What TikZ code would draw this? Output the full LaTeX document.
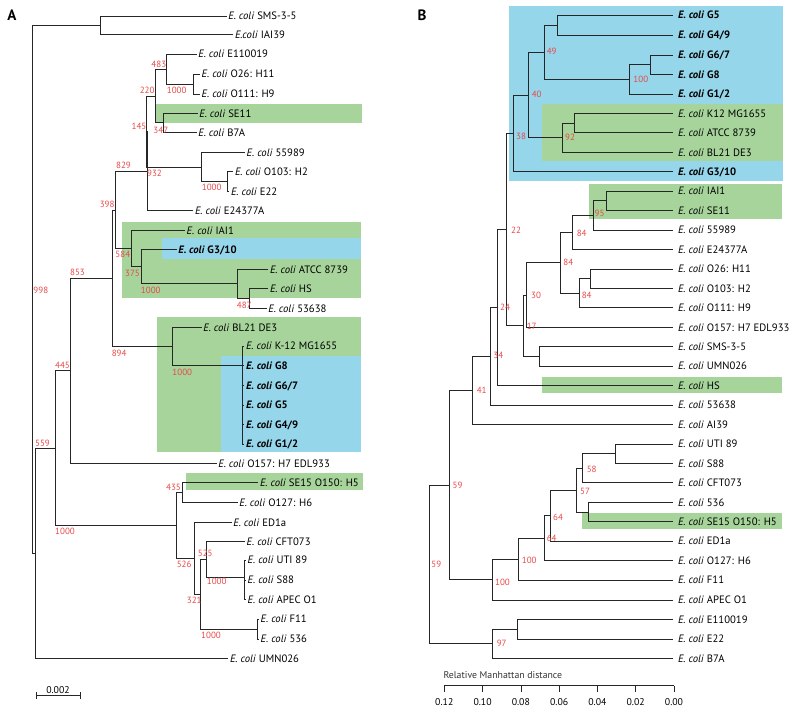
\documentclass[tikz,border=0pt]{standalone}
\usepackage{fontspec}
\setmainfont{PT Sans}
\usetikzlibrary{positioning}
\definecolor{hlgreen}{RGB}{166,212,155}
\definecolor{hlblue}{RGB}{150,214,234}
\definecolor{bsred}{RGB}{232,72,72}
\newcommand{\ecoli}{\textit{E. coli}}
\tikzset{
  branch/.style={line width=0.7pt, black!85},
  leafL/.style={anchor=west, inner xsep=1.5pt, inner ysep=0pt, font=\fontsize{10.7}{12}\selectfont, text height=7.4pt, text depth=0pt},
  leafR/.style={leafL, inner xsep=4.5pt},
  bs/.style={font=\fontsize{9}{10}\selectfont, text=bsred, inner sep=0pt},
  greenbox/.style={fill=hlgreen, draw=none},
  bluebox/.style={fill=hlblue, draw=none},
  axlbl/.style={font=\fontsize{9.8}{11}\selectfont, inner sep=0pt},
}

\begin{document}
\begin{tikzpicture}[x=1pt, y=-1pt]
\useasboundingbox (0,0) rectangle (800,709);

% highlight boxes
\fill[greenbox] (155.7,104.3) rectangle (361.7,123.3);
\fill[greenbox] (122.3,221.7) rectangle (361,298.3);
\fill[bluebox]  (161.7,237.7) rectangle (361,259);
\fill[greenbox] (156.7,317.3) rectangle (361,451.7);
\fill[bluebox]  (221,355.7) rectangle (361,451.7);
\fill[greenbox] (185.7,473.3) rectangle (362.7,490);
\fill[bluebox]  (509.3,6) rectangle (782.7,181);
\fill[greenbox] (542.3,104.3) rectangle (782.7,161);
\fill[greenbox] (589,184.3) rectangle (782.3,219.3);
\fill[greenbox] (541.7,376.7) rectangle (782.3,393.3);
\fill[greenbox] (581.7,512.7) rectangle (782.3,529.3);

\node[font=\bfseries\fontsize{15}{16}\selectfont] (pA) at (12,15) {A};
\node[font=\bfseries\fontsize{15}{16}\selectfont] (pB) at (422,15) {B};

% tree A leaves
\node[leafL] (a-sms) at (226.7,16) {\ecoli\ SMS-3-5};
\node[leafL] (a-iai39) at (233.3,34.7) {\textit{E.coli} IAI39};
\node[leafL] (a-e110019) at (196.7,54.3) {\ecoli\ E110019};
\node[leafL] (a-o26) at (200,74) {\ecoli\ O26: H11};
\node[leafL] (a-o111) at (200,94) {\ecoli\ O111: H9};
\node[leafL] (a-se11) at (197.7,113.3) {\ecoli\ SE11};
\node[leafL] (a-b7a) at (196.7,132.3) {\ecoli\ B7A};
\node[leafL] (a-55989) at (245,152.3) {\ecoli\ 55989};
\node[leafL] (a-o103) at (233.3,171.7) {\ecoli\ O103: H2};
\node[leafL] (a-e22) at (229.3,191.7) {\ecoli\ E22};
\node[leafL] (a-e24377a) at (193.3,210.7) {\ecoli\ E24377A};
\node[leafL] (a-iai1) at (185,230.7) {\ecoli\ IAI1};
\node[leafL] (a-g310) at (176.7,249.3) {\textbf{\ecoli\ G3/10}};
\node[leafL] (a-atcc) at (268.3,269.3) {\ecoli\ ATCC 8739};
\node[leafL] (a-hs) at (268.3,288.3) {\ecoli\ HS};
\node[leafL] (a-53638) at (266.7,308.3) {\ecoli\ 53638};
\node[leafL] (a-bl21) at (201.7,327.3) {\ecoli\ BL21 DE3};
\node[leafL] (a-k12) at (244.3,346) {\ecoli\ K-12 MG1655};
\node[leafL] (a-g8) at (244.3,365.7) {\textbf{\ecoli\ G8}};
\node[leafL] (a-g67) at (244.3,385.7) {\textbf{\ecoli\ G6/7}};
\node[leafL] (a-g5) at (244.3,405) {\textbf{\ecoli\ G5}};
\node[leafL] (a-g49) at (244.3,424.3) {\textbf{\ecoli\ G4/9}};
\node[leafL] (a-g12) at (244.3,444) {\textbf{\ecoli\ G1/2}};
\node[leafL] (a-o157) at (216.7,463.3) {\ecoli\ O157: H7 EDL933};
\node[leafL] (a-se15) at (258.3,482.7) {\ecoli\ SE15 O150: H5};
\node[leafL] (a-o127) at (237.7,502.3) {\ecoli\ O127: H6};
\node[leafL] (a-ed1a) at (231.7,522.3) {\ecoli\ ED1a};
\node[leafL] (a-cft073) at (245,541.7) {\ecoli\ CFT073};
\node[leafL] (a-uti89) at (246,560) {\ecoli\ UTI 89};
\node[leafL] (a-s88) at (246,580) {\ecoli\ S88};
\node[leafL] (a-apec) at (246,599.3) {\ecoli\ APEC O1};
\node[leafL] (a-f11) at (259,619) {\ecoli\ F11};
\node[leafL] (a-536) at (259,639) {\ecoli\ 536};
\node[leafL] (a-umn026) at (228.3,658.7) {\ecoli\ UMN026};

% tree A inner nodes
\coordinate (aroot) at (32,289.4);
\coordinate (aSMS) at (100,25.3);
\coordinate (a559) at (35,553.4);
\coordinate (a445) at (55,448.1);
\coordinate (a853) at (70,370.8);
\coordinate (a894) at (112.3,278.2);
\coordinate (a829) at (115.7,209.9);
\coordinate (a932) at (147,171.1);
\coordinate (a145) at (146,131.5);
\coordinate (a220) at (155.7,96);
\coordinate (a483) at (166.7,69.2);
\coordinate (aO26) at (193.3,84);
\coordinate (a347) at (163.3,122.8);
\coordinate (a55989) at (201.7,167);
\coordinate (aO103) at (227.7,181.7);
\coordinate (a584) at (131,248.7);
\coordinate (a375) at (141.7,266.6);
\coordinate (aATCC) at (237.3,283.8);
\coordinate (aHS) at (249.3,298.3);
\coordinate (aBL) at (172.3,346.5);
\coordinate (aG) at (242.7,365.7);
\coordinate (a526) at (176.7,525.4);
\coordinate (a435) at (182.3,492.5);
\coordinate (a321) at (194.3,558.3);
\coordinate (aN) at (200,594.2);
\coordinate (a525) at (206.7,559.3);
\coordinate (aUTI) at (244.3,577);
\coordinate (aF11) at (257.7,629);

\foreach \p/\c in {aroot/aSMS, aroot/a559, aSMS/a-sms.west, aSMS/a-iai39.west,
    a559/a445, a559/a-umn026.west, a445/a853, a445/a526,
    a853/a894, a853/a-o157.west, a894/a829, a894/aBL,
    a829/a932, a829/a584, a932/a145, a932/a-e24377a.west,
    a145/a220, a145/a55989, a220/a483, a220/a347,
    a483/a-e110019.west, a483/aO26, aO26/a-o26.west, aO26/a-o111.west,
    a347/a-se11.west, a347/a-b7a.west, a55989/a-55989.west, a55989/aO103,
    aO103/a-o103.west, aO103/a-e22.west, a584/a-iai1.west, a584/a375,
    a375/a-g310.west, a375/aATCC, aATCC/a-atcc.west, aATCC/aHS,
    aHS/a-hs.west, aHS/a-53638.west, aBL/a-bl21.west, aBL/aG,
    aG/a-k12.west, aG/a-g8.west, aG/a-g67.west, aG/a-g5.west, aG/a-g49.west, aG/a-g12.west,
    a526/a435, a526/a321, a435/a-se15.west, a435/a-o127.west,
    a321/a-ed1a.west, a321/aN, aN/a525, aN/aF11,
    a525/a-cft073.west, a525/aUTI, aUTI/a-uti89.west, aUTI/a-s88.west, aUTI/a-apec.west,
    aF11/a-f11.west, aF11/a-536.west}
  \draw[branch] (\p) |- (\c);

% tree A support values
\node[bs] (s483) at (158.8,64) {483};
\node[bs] (s1000a) at (176.7,90.7) {1000};
\node[bs] (s220) at (147.2,90.7) {220};
\node[bs] (s347) at (160.8,130) {347};
\node[bs] (s145) at (139,126.7) {145};
\node[bs] (s932) at (154.5,173.3) {932};
\node[bs] (s1000b) at (211.7,187.7) {1000};
\node[bs] (s829) at (123.5,165.7) {829};
\node[bs] (s398) at (107.2,204.3) {398};
\node[bs] (s584) at (122.8,254.3) {584};
\node[bs] (s375) at (132.5,273.3) {375};
\node[bs] (s1000c) at (150.8,290) {1000};
\node[bs] (s487) at (244.2,305) {487};
\node[bs] (s894) at (119.2,353.3) {894};
\node[bs] (s1000d) at (182.3,372.3) {1000};
\node[bs] (s853) at (77.5,272.3) {853};
\node[bs] (s445) at (62.5,365) {445};
\node[bs] (s998) at (40.8,290) {998};
\node[bs] (s559) at (42.5,443.3) {559};
\node[bs] (s1000e) at (65,531) {1000};
\node[bs] (s435) at (173.5,487.3) {435};
\node[bs] (s526) at (184.2,564) {526};
\node[bs] (s525) at (205.2,553.3) {525};
\node[bs] (s1000f) at (216.7,581.7) {1000};
\node[bs] (s321) at (194.2,600) {321};
\node[bs] (s1000g) at (211,635.7) {1000};

% scale bar
\coordinate (sb0) at (36,695.7);
\coordinate (sb1) at (80,695.7);
\draw[branch] (sb0) -- (sb1);
\draw[branch] (sb0) ++(0,-3.3) -- ++(0,6.6);
\draw[branch] (sb1) ++(0,-3.3) -- ++(0,6.6);
\node[axlbl] (sblbl) at (58,689.7) {0.002};

% tree B leaves
\node[leafR] (b-g5) at (673.3,15.3) {\textbf{\ecoli\ G5}};
\node[leafR] (b-g49) at (673.3,35) {\textbf{\ecoli\ G4/9}};
\node[leafR] (b-g67) at (673.3,55) {\textbf{\ecoli\ G6/7}};
\node[leafR] (b-g8) at (673.3,74.3) {\textbf{\ecoli\ G8}};
\node[leafR] (b-g12) at (673.3,94) {\textbf{\ecoli\ G1/2}};
\node[leafR] (b-k12) at (673.3,113.3) {\ecoli\ K12 MG1655};
\node[leafR] (b-atcc) at (673.3,132.7) {\ecoli\ ATCC 8739};
\node[leafR] (b-bl21) at (673.3,152.3) {\ecoli\ BL21 DE3};
\node[leafR] (b-g310) at (673.3,171.7) {\textbf{\ecoli\ G3/10}};
\node[leafR] (b-iai1) at (673.3,191) {\ecoli\ IAI1};
\node[leafR] (b-se11) at (673.3,210.7) {\ecoli\ SE11};
\node[leafR] (b-55989) at (673.3,230) {\ecoli\ 55989};
\node[leafR] (b-e24377a) at (673.3,249.3) {\ecoli\ E24377A};
\node[leafR] (b-o26) at (673.3,269) {\ecoli\ O26: H11};
\node[leafR] (b-o103) at (673.3,288.3) {\ecoli\ O103: H2};
\node[leafR] (b-o111) at (673.3,307.7) {\ecoli\ O111: H9};
\node[leafR] (b-o157) at (673.3,327.3) {\ecoli\ O157: H7 EDL933};
\node[leafR] (b-sms) at (673.3,346.7) {\ecoli\ SMS-3-5};
\node[leafR] (b-umn026) at (673.3,366) {\ecoli\ UMN026};
\node[leafR] (b-hs) at (673.3,385.7) {\ecoli\ HS};
\node[leafR] (b-53638) at (673.3,405) {\ecoli\ 53638};
\node[leafR] (b-ai39) at (673.3,424.3) {\ecoli\ AI39};
\node[leafR] (b-uti89) at (673.3,444) {\ecoli\ UTI 89};
\node[leafR] (b-s88) at (673.3,463.3) {\ecoli\ S88};
\node[leafR] (b-cft073) at (673.3,482.7) {\ecoli\ CFT073};
\node[leafR] (b-536) at (673.3,502.3) {\ecoli\ 536};
\node[leafR] (b-se15) at (673.3,521.7) {\ecoli\ SE15 O150: H5};
\node[leafR] (b-ed1a) at (673.3,541) {\ecoli\ ED1a};
\node[leafR] (b-o127) at (673.3,560.7) {\ecoli\ O127: H6};
\node[leafR] (b-f11) at (673.3,580) {\ecoli\ F11};
\node[leafR] (b-apec) at (673.3,600) {\ecoli\ APEC O1};
\node[leafR] (b-e110019) at (673.3,619.3) {\ecoli\ E110019};
\node[leafR] (b-e22) at (673.3,639) {\ecoli\ E22};
\node[leafR] (b-b7a) at (673.3,658.3) {\ecoli\ B7A};

% tree B inner nodes
\coordinate (b59) at (429,564.3);
\coordinate (b59a) at (449,484.9);
\coordinate (b41) at (472.7,390.3);
\coordinate (b34) at (490.7,356.3);
\coordinate (b24) at (497.7,307.6);
\coordinate (b22) at (506,229.5);
\coordinate (b38) at (513.3,133.3);
\coordinate (b40) at (528.3,95);
\coordinate (b49) at (544,52.3);
\coordinate (bG5) at (557.3,25.2);
\coordinate (b100) at (629.3,79.3);
\coordinate (bG67) at (650,64.7);
\coordinate (b92) at (562.3,137.7);
\coordinate (bK12) at (574.3,123);
\coordinate (b17) at (523.3,325.7);
\coordinate (b30) at (526.7,295);
\coordinate (b84b) at (560,262.8);
\coordinate (b84a) at (572.7,232.4);
\coordinate (b95) at (593.3,215.4);
\coordinate (bIAI1) at (606.7,200.8);
\coordinate (b84c) at (579,293.2);
\coordinate (bO26) at (590,278.7);
\coordinate (bSMS) at (539.3,356.3);
\coordinate (b100b) at (492.3,579.5);
\coordinate (b100a) at (518.3,559);
\coordinate (b64b) at (544,538.1);
\coordinate (b64a) at (550,515.5);
\coordinate (b57) at (576,490.1);
\coordinate (b58) at (582.3,468.2);
\coordinate (bUTI) at (615,453.7);
\coordinate (b536) at (588.3,512);
\coordinate (b97) at (492.3,643.7);
\coordinate (bE11) at (517.7,629.2);

\foreach \p/\c in {b59/b59a, b59/b97, b59a/b41, b59a/b100b,
    b41/b34, b41/b-ai39.west, b34/b24, b34/b-53638.west,
    b24/b22, b24/b-hs.west, b22/b38, b22/b17,
    b38/b40, b38/b-g310.west, b40/b49, b40/b92,
    b49/bG5, b49/b100, bG5/b-g5.west, bG5/b-g49.west,
    b100/bG67, b100/b-g12.west, bG67/b-g67.west, bG67/b-g8.west,
    b92/bK12, b92/b-bl21.west, bK12/b-k12.west, bK12/b-atcc.west,
    b17/b30, b17/bSMS, b30/b84b, b30/b-o157.west,
    b84b/b84a, b84b/b84c, b84a/b95, b84a/b-e24377a.west,
    b95/bIAI1, b95/b-55989.west, bIAI1/b-iai1.west, bIAI1/b-se11.west,
    b84c/bO26, b84c/b-o111.west, bO26/b-o26.west, bO26/b-o103.west,
    bSMS/b-sms.west, bSMS/b-umn026.west,
    b100b/b100a, b100b/b-apec.west, b100a/b64b, b100a/b-f11.west,
    b64b/b64a, b64b/b-o127.west, b64a/b57, b64a/b-ed1a.west,
    b57/b58, b57/b536, b58/bUTI, b58/b-cft073.west,
    bUTI/b-uti89.west, bUTI/b-s88.west, b536/b-536.west, b536/b-se15.west,
    b97/bE11, b97/b-b7a.west, bE11/b-e110019.west, bE11/b-e22.west}
  \draw[branch] (\p) |- (\c);

% tree B support values
\node[bs] (r49) at (551.7,51.7) {49};
\node[bs] (r100a) at (640.8,79) {100};
\node[bs] (r40) at (536.7,94) {40};
\node[bs] (r92) at (570,137.3) {92};
\node[bs] (r38) at (521,136) {38};
\node[bs] (r95) at (599.5,213.3) {95};
\node[bs] (r22) at (516,230) {22};
\node[bs] (r84a) at (581.7,233.3) {84};
\node[bs] (r84b) at (568.3,262.3) {84};
\node[bs] (r30) at (536,295) {30};
\node[bs] (r84c) at (586.7,295) {84};
\node[bs] (r24) at (505,307.3) {24};
\node[bs] (r17) at (531.7,326.7) {17};
\node[bs] (r34) at (498.3,355) {34};
\node[bs] (r41) at (481.7,390) {41};
\node[bs] (r59a) at (457.5,485.7) {59};
\node[bs] (r58) at (591.7,469) {58};
\node[bs] (r57) at (585,491) {57};
\node[bs] (r64a) at (558,517.3) {64};
\node[bs] (r64b) at (551.7,538.3) {64};
\node[bs] (r100b) at (529.2,560) {100};
\node[bs] (r100c) at (502.5,582.7) {100};
\node[bs] (r59) at (436.3,564.3) {59};
\node[bs] (r97) at (501.7,643.3) {97};

% distance axis
\node[axlbl, anchor=west, text=black!80] (axtitle) at (443.3,675) {Relative Manhattan distance};
\coordinate (ax0) at (444.3,685.7);
\coordinate (ax6) at (674,685.7);
\draw[branch] (ax0) -- (ax6);
\foreach \v [count=\i from 0] in {0.12,0.10,0.08,0.06,0.04,0.02,0.00} {
  \coordinate (t\i) at (444.3+38.28*\i,685.7);
  \draw[branch] (t\i) -- ++(0,6.6);
  \node[axlbl] (tl\i) at (444.3+38.28*\i,701.7) {\v};
}
\end{tikzpicture}
\end{document}
